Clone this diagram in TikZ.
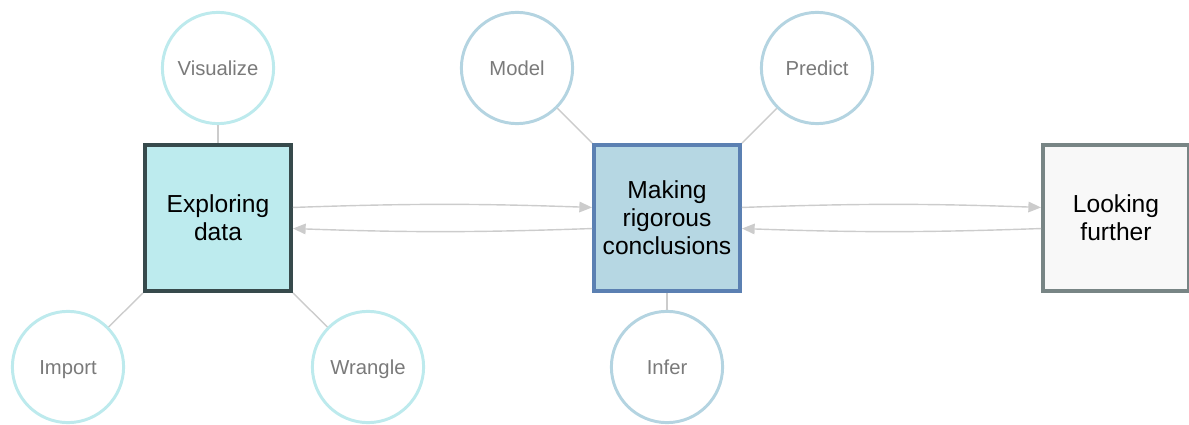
\documentclass[tikz,border=0pt]{standalone}
\usepackage{fontspec}
\setmainfont{Liberation Sans}
\usetikzlibrary{arrows.meta}
\definecolor{exfill}{HTML}{BDEBEE}
\definecolor{exline}{HTML}{374A4C}
\definecolor{mkfill}{HTML}{B6D7E3}
\definecolor{mkline}{HTML}{5B80B2}
\definecolor{lffill}{HTML}{F8F8F8}
\definecolor{lfline}{HTML}{788585}
\definecolor{tealring}{HTML}{BDEAED}
\definecolor{bluering}{HTML}{B4D4E1}
\definecolor{linkgray}{HTML}{CCCCCC}
\definecolor{labelgray}{HTML}{7A7A7A}
\begin{document}
\begin{tikzpicture}[x=0.025cm, y=-0.025cm,
    stage/.style={draw, line width=2.5pt, minimum size=3.66cm, inner sep=0pt,
      align=center, font=\fontsize{17.5}{20}\selectfont},
    skill/.style={circle, draw, line width=2.1pt, fill=white, minimum size=2.78cm,
      inner sep=0pt, text height=10.5pt, text depth=0pt, text=labelgray,
      font=\fontsize{14.4}{17}\selectfont},
    link/.style={draw=linkgray, line width=1pt},
    flow/.style={draw=linkgray, line width=1pt, -{Triangle[length=9pt,width=7.5pt]}}]
  \useasboundingbox (0,0) rectangle (1189,425);
  \draw
    (218,218) node[stage, fill=exfill, draw=exline] (ex){Exploring\\data}
    (667,218) node[stage, fill=mkfill, draw=mkline] (mk){Making\\rigorous\\conclusions}
    (1116,218) node[stage, fill=lffill, draw=lfline] (lf){Looking\\further}
    (218,68) node[skill, draw=tealring] (vis){Visualize}
    (68,367) node[skill, draw=tealring] (imp){Import}
    (368,367) node[skill, draw=tealring] (wra){Wrangle}
    (517,68) node[skill, draw=bluering] (mod){Model}
    (817,68) node[skill, draw=bluering] (pre){Predict}
    (667,367) node[skill, draw=bluering] (inf){Infer};
  \begin{scope}[link]
    \draw (vis) to (ex);
    \draw (imp) to (ex.south west);
    \draw (wra) to (ex.south east);
    \draw (mod) to (mk.north west);
    \draw (pre) to (mk.north east);
    \draw (inf) to (mk);
  \end{scope}
  \begin{scope}[flow]
    \draw (ex.8) to[bend left=2] (mk.172);
    \draw (mk.188) to[bend left=2] (ex.352);
    \draw (mk.8) to[bend left=2] (lf.172);
    \draw (lf.188) to[bend left=2] (mk.352);
  \end{scope}
\end{tikzpicture}
\end{document}
